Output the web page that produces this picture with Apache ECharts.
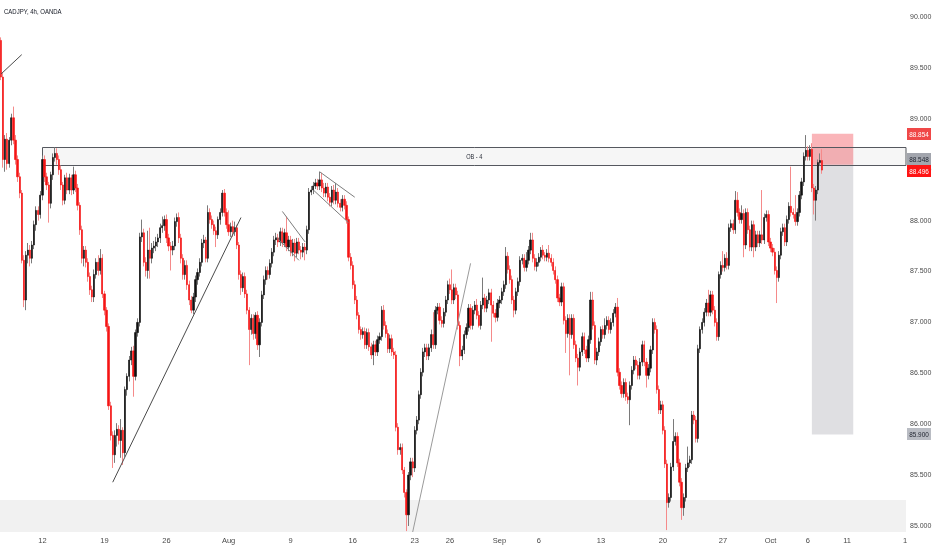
<!DOCTYPE html>
<html><head><meta charset="utf-8">
<script src="https://cdn.jsdelivr.net/npm/echarts@6/dist/echarts.min.js"></script>
<style>html,body{margin:0;padding:0;background:#fff}#c{width:932px;height:550px}</style>
</head><body><div id="c"></div>
<script>
// Each candle: [open, close, low, high]  (4h CADJPY, OANDA)
const julCandles = [
[89.77,89.41,89.38,89.80],[89.41,88.60,88.52,89.45],[88.60,88.80,88.48,88.84],[88.80,88.56,88.50,88.86],[88.56,88.79,88.52,88.82],
[88.79,89.01,88.74,89.05],[89.01,88.79,88.75,89.12],[88.79,88.60,88.55,88.84],[88.60,88.43,88.38,88.64],[88.43,88.27,88.22,88.47],
[88.27,87.61,87.58,88.30],[87.61,87.22,87.15,87.66],[87.22,87.66,87.12,87.70],[87.66,87.71,87.58,87.78],[87.71,87.63,87.55,87.76],
[87.63,87.76,87.58,87.80],[87.76,87.96,87.72,88.00],[87.96,88.10,87.90,88.14],[88.10,88.06,88.00,88.14],[88.06,88.25,88.02,88.29],
[88.25,88.60,88.20,88.64],[88.60,88.43,88.38,88.64],[88.43,88.35,88.30,88.47],[88.35,88.17,87.98,88.38],[88.17,88.45,88.12,88.48],
[88.45,88.62,88.40,88.66],[88.62,88.66,88.58,88.72],[88.66,88.60,88.55,88.71],[88.60,88.50,88.45,88.64],[88.50,88.35,88.30,88.54],
[88.35,88.20,88.15,88.38],[88.20,88.42,88.16,88.45],[88.42,88.30,88.26,88.47],[88.30,88.42,88.26,88.46],[88.42,88.30,88.25,88.45],
[88.30,88.45,88.26,88.53],[88.45,88.32,88.28,88.49],[88.32,88.15,88.10,88.36],[88.15,87.91,87.86,88.18],[87.91,87.63,87.58,87.95],
[87.63,87.71,87.55,87.75],[87.71,87.59,87.54,87.75],[87.59,87.45,87.40,87.63],[87.45,87.32,87.27,87.49],[87.32,87.25,87.20,87.36],
[87.25,87.47,87.20,87.52],[87.47,87.59,87.43,87.63],[87.59,87.51,87.46,87.66],[87.51,87.63,87.47,87.72],[87.63,87.28,87.24,87.67],
[87.28,87.12,87.07,87.31],[87.12,86.96,86.91,87.15],[86.96,86.18,86.14,86.99],[86.18,85.89,85.84,86.22],[85.89,85.70,85.57,85.93],
[85.70,85.89,85.62,85.94],[85.89,85.95,85.78,86.01],[85.95,85.84,85.80,85.99],[85.84,85.94,85.67,86.05],[85.94,85.72,85.60,85.97],
[85.72,86.34,85.68,86.37],[86.34,86.47,86.28,86.50],[86.47,86.63,86.42,86.67],[86.63,86.72,86.58,86.76],[86.72,86.47,86.27,86.77],
[86.47,86.90,86.43,86.93],[86.90,87.00,86.86,87.04],[87.00,87.84,86.96,87.88],[87.84,87.88,87.79,88.01],[87.88,87.59,87.55,87.92],
[87.59,87.51,87.45,87.64],[87.51,87.71,87.43,87.90],[87.71,87.63,87.43,87.93],[87.63,87.73,87.58,87.78],[87.73,87.75,87.68,87.80],
[87.75,87.79,87.70,87.84],[87.79,87.83,87.74,87.87],[87.83,87.93,87.78,87.97],[87.93,87.95,87.88,88.04],[87.95,88.01,87.90,88.05],
[88.01,87.83,87.78,88.06],[87.83,87.75,87.70,87.87],[87.75,87.71,87.51,87.79],[87.71,87.75,87.66,87.80],[87.75,87.99,87.71,88.03],
[87.99,88.03,87.94,88.07],[88.03,87.83,87.78,88.08],[87.83,87.63,87.58,87.87],[87.63,87.47,87.42,87.67],[87.47,87.56,87.42,87.61],
[87.56,87.37,87.32,87.61],[87.37,87.22,87.17,87.41],[87.22,87.12,87.09,87.26],[87.12,87.25,87.08,87.29],[87.25,87.42,87.20,87.46],
[87.42,87.49,87.37,87.53],[87.49,87.59,87.45,87.63],[87.59,87.78,87.55,87.82],[87.78,87.81,87.73,87.86],[87.81,87.63,87.59,87.84],
[87.63,88.08,87.59,88.15],[88.08,88.01,87.97,88.12],[88.01,87.96,87.92,88.05],[87.96,87.90,87.86,88.00],[87.90,87.86,87.74,87.94],
[87.86,88.01,87.82,88.04],[88.01,88.08,87.96,88.12],[88.08,88.27,88.04,88.30],[88.27,88.08,88.04,88.31],[88.08,87.96,87.92,88.12]
];
const augCandles = [
[87.96,87.89,87.85,88.10],[87.89,87.94,87.84,87.98],[87.94,87.89,87.84,88.00],[87.89,87.93,87.85,87.99],[87.93,87.76,87.72,87.96],
[87.76,87.47,87.42,87.79],[87.47,87.34,87.27,87.51],[87.34,87.45,87.30,87.49],[87.45,87.28,87.24,87.49],[87.28,87.12,87.08,87.32],
[87.12,86.93,86.58,87.15],[86.93,87.04,86.88,87.08],[87.04,86.89,86.83,87.08],[86.89,87.07,86.84,87.10],[87.07,86.78,86.73,87.11],
[86.78,87.00,86.66,87.04],[87.00,87.27,86.96,87.31],[87.27,87.42,87.23,87.46],[87.42,87.51,87.37,87.55],[87.51,87.47,87.42,87.55],
[87.47,87.58,87.43,87.62],[87.58,87.69,87.54,87.73],[87.69,87.81,87.65,87.85],[87.81,87.83,87.76,87.88],[87.83,87.79,87.74,87.87],
[87.79,87.89,87.75,87.93],[87.89,87.78,87.74,87.93],[87.78,87.88,87.74,87.92],[87.88,87.74,87.70,88.04],[87.74,87.81,87.70,87.85],
[87.81,87.69,87.65,87.85],[87.69,87.78,87.65,87.82],[87.78,87.68,87.60,87.82],[87.68,87.79,87.64,87.83],[87.79,87.71,87.67,87.83],
[87.71,87.69,87.62,87.75],[87.69,87.74,87.64,87.78],[87.74,87.71,87.61,87.78],[87.71,87.91,87.67,87.95],[87.91,88.28,87.87,88.32],
[88.28,88.30,88.25,88.34],[88.30,88.34,88.26,88.38],[88.34,88.37,88.31,88.41],[88.37,88.34,88.30,88.41],[88.34,88.40,88.30,88.48],
[88.40,88.32,88.28,88.47],[88.32,88.27,88.23,88.37],[88.27,88.33,88.23,88.37],[88.33,88.23,88.19,88.37],[88.23,88.18,88.14,88.27],
[88.18,88.30,88.14,88.34],[88.30,88.20,88.16,88.35],[88.20,88.28,88.16,88.37],[88.28,88.17,88.13,88.32],[88.17,88.13,88.09,88.21],
[88.13,88.21,88.09,88.25],[88.21,88.15,88.11,88.25],[88.15,88.01,87.97,88.19],[88.01,87.64,87.60,88.04],[87.64,87.56,87.52,87.68],
[87.56,87.37,87.33,87.60],[87.37,87.22,87.18,87.41],[87.22,87.07,87.03,87.26],[87.07,86.93,86.89,87.10],[86.93,86.88,86.83,86.96],
[86.88,86.91,86.84,86.95],[86.91,86.78,86.74,86.95],[86.78,86.90,86.74,86.94],[86.90,86.76,86.72,86.94],[86.76,86.68,86.64,86.80],
[86.68,86.78,86.58,86.82],[86.78,86.71,86.67,86.82],[86.71,86.83,86.67,86.87],[86.83,86.86,86.79,86.90],[86.86,87.12,86.82,87.16],
[87.12,86.97,86.93,87.17],[86.97,86.89,86.85,87.01],[86.89,86.74,86.70,86.93],[86.74,86.84,86.70,86.88],[86.84,86.71,86.67,86.88],
[86.71,86.68,86.64,86.75],[86.68,85.97,85.93,86.72],[85.97,85.75,85.70,86.01],[85.75,85.77,85.70,85.81],[85.77,85.55,85.51,85.81],
[85.55,85.33,85.28,85.58],[85.33,85.11,84.95,85.36],[85.11,85.50,85.00,85.53],[85.50,85.63,85.45,85.67],[85.63,85.57,85.48,85.67],
[85.57,85.94,85.53,85.98],[85.94,86.04,85.90,86.08],[86.04,86.29,86.00,86.33],[86.29,86.51,86.25,86.55],[86.51,86.71,86.47,86.75],
[86.71,86.75,86.66,86.79],[86.75,86.67,86.63,86.79],[86.67,86.75,86.63,86.79],[86.75,86.88,86.71,86.93],[86.88,86.78,86.74,87.10],
[86.78,87.12,86.74,87.16],[87.12,87.15,87.08,87.19],[87.15,87.02,86.98,87.19],[87.02,86.99,86.95,87.06],[86.99,87.10,86.95,87.14],
[87.10,87.22,87.06,87.26],[87.22,87.37,87.18,87.41],[87.37,87.32,87.28,87.43],[87.32,87.22,87.18,87.52],[87.22,87.34,87.18,87.38],
[87.34,87.27,87.23,87.38],[87.27,86.97,86.93,87.31],[86.97,86.67,86.57,87.01],[86.67,86.73,86.63,86.77],[86.73,86.88,86.69,86.92],
[86.88,86.95,86.84,86.99],[86.95,87.14,86.91,87.18],[87.14,86.97,86.93,87.18],[86.97,87.12,86.93,87.16],[87.12,87.17,87.08,87.21],
[87.17,87.07,87.03,87.23],[87.07,86.97,86.95,87.11],[86.97,87.17,86.93,87.21],[87.17,87.24,87.13,87.44],[87.24,87.14,87.10,87.28],
[87.14,87.22,87.10,87.26],[87.22,87.29,87.18,87.33],[87.29,87.17,86.81,87.33],[87.17,87.09,87.05,87.21],[87.09,87.05,87.00,87.13],
[87.05,87.19,87.01,87.23]
];
const sepCandles = [
[87.19,87.22,87.14,87.26],[87.22,87.30,87.18,87.34],[87.30,87.37,87.26,87.41],[87.37,87.65,87.33,87.74],[87.65,87.52,87.48,87.69],
[87.52,87.42,87.38,87.56],[87.42,87.22,87.18,87.46],[87.22,87.12,87.05,87.26],[87.12,87.30,87.08,87.34],[87.30,87.40,87.26,87.44],
[87.40,87.61,87.36,87.65],[87.61,87.63,87.57,87.67],[87.63,87.54,87.50,87.67],[87.54,87.61,87.50,87.69],[87.61,87.71,87.57,87.75],
[87.71,87.81,87.67,87.88],[87.81,87.63,87.59,87.88],[87.63,87.55,87.51,87.67],[87.55,87.59,87.50,87.63],[87.59,87.64,87.55,87.68],
[87.64,87.71,87.60,87.74],[87.71,87.66,87.62,87.76],[87.66,87.64,87.60,87.69],[87.64,87.68,87.60,87.72],[87.68,87.63,87.59,87.76],
[87.63,87.59,87.55,87.67],[87.59,87.51,87.47,87.63],[87.51,87.42,87.38,87.55],[87.42,87.24,87.20,87.46],[87.24,87.20,87.16,87.28],
[87.20,87.35,87.16,87.39],[87.35,87.02,86.98,87.39],[87.02,86.89,86.70,87.06],[86.89,87.04,86.85,87.08],[87.04,86.88,86.48,87.08],
[86.88,87.04,86.84,87.08],[87.04,86.78,86.74,87.08],[86.78,86.65,86.61,86.82],[86.65,86.56,86.38,86.69],[86.56,86.71,86.52,86.75],
[86.71,86.86,86.67,86.90],[86.86,86.73,86.69,86.90],[86.73,86.65,86.61,86.77],[86.65,86.83,86.61,86.87],[86.83,87.22,86.79,87.30],
[87.22,86.97,86.93,87.30],[86.97,86.63,86.59,87.01],[86.63,86.71,86.58,86.75],[86.71,86.81,86.67,86.85],[86.81,86.93,86.77,86.96],
[86.93,86.88,86.84,86.97],[86.88,86.97,86.84,87.04],[86.97,87.02,86.93,87.06],[87.02,86.93,86.89,87.06],[86.93,87.00,86.89,87.04],
[87.00,87.09,86.96,87.13],[87.09,87.15,87.05,87.19],[87.15,86.51,86.47,87.24],[86.51,86.38,86.34,86.55],[86.38,86.30,86.26,86.42],
[86.30,86.41,86.26,86.45],[86.41,86.27,86.23,86.45],[86.27,86.24,86.20,86.31],[86.24,86.38,85.99,86.42],[86.38,86.53,86.34,86.57],
[86.53,86.63,86.49,86.67],[86.63,86.58,86.54,86.67],[86.58,86.48,86.44,86.62],[86.48,86.61,86.44,86.65],[86.61,86.78,86.57,86.82],
[86.78,86.61,86.57,86.82],[86.61,86.48,86.36,86.65],[86.48,86.55,86.44,86.59],[86.55,86.73,86.51,86.77],[86.73,87.00,86.69,87.04],
[87.00,86.93,86.89,87.04],[86.93,86.34,86.30,86.97],[86.34,86.14,86.10,86.38],[86.14,86.19,86.10,86.23],[86.19,85.94,85.90,86.23],
[85.94,85.61,85.57,85.98],[85.61,85.23,84.96,85.65],[85.23,85.28,85.18,85.32],[85.28,85.58,85.24,85.62],[85.58,85.83,85.54,86.05],
[85.83,85.88,85.79,85.92],[85.88,85.62,85.58,85.92],[85.62,85.43,85.39,85.66],[85.43,85.18,85.06,85.47],[85.18,85.28,85.10,85.32],
[85.28,85.57,85.24,85.61],[85.57,85.62,85.53,85.78],[85.62,85.65,85.58,85.69],[85.65,86.09,85.61,86.13],[86.09,86.04,86.00,86.13],
[86.04,85.86,85.82,86.08],[85.86,86.74,85.82,86.78],[86.74,86.93,86.70,86.96],[86.93,87.00,86.89,87.04],[87.00,87.10,86.96,87.14],
[87.10,87.19,87.06,87.23],[87.19,87.10,87.06,87.32],[87.10,87.27,87.06,87.31],[87.27,87.12,87.08,87.31],[87.12,87.00,86.96,87.16],
[87.00,86.86,86.82,87.04],[86.86,87.47,86.82,87.50],[87.47,87.56,87.43,87.60],[87.56,87.54,87.50,87.70],[87.54,87.63,87.50,87.67],
[87.63,87.56,87.52,87.69],[87.56,87.93,87.52,87.97],[87.93,87.97,87.89,88.01],[87.97,87.91,87.87,88.01],[87.91,88.20,87.87,88.29],
[88.20,88.08,88.04,88.28],[88.08,88.01,87.97,88.12],[88.01,88.07,87.97,88.15],[88.07,87.76,87.64,88.11],[87.76,88.08,87.72,88.12],
[88.08,87.91,87.87,88.12],[87.91,87.74,87.70,87.95],[87.74,87.96,87.70,88.00],[87.96,87.74,87.64,88.00],[87.74,87.86,87.70,87.90],
[87.86,87.78,87.74,87.90],[87.78,87.86,87.74,87.90],[87.86,87.81,87.77,88.30],[87.81,88.03,87.77,88.07],[88.03,88.06,87.99,88.10],
[88.06,87.79,87.75,88.10]
];
const octCandles = [
[87.79,87.73,87.69,87.83],[87.73,87.69,87.65,87.77],[87.69,87.51,87.47,87.73],[87.51,87.44,87.19,87.55],[87.44,87.66,87.40,87.70],
[87.66,87.89,87.62,87.93],[87.89,87.93,87.85,87.97],[87.93,87.79,87.75,87.97],[87.79,88.01,87.75,88.05],[88.01,88.14,87.97,88.18],
[88.14,88.08,88.04,88.53],[88.08,88.06,88.02,88.12],[88.06,87.99,87.95,88.25],[87.99,88.08,87.95,88.12],[88.08,88.25,88.04,88.29],
[88.25,88.38,88.21,88.42],[88.38,88.63,88.34,88.67],[88.63,88.69,88.59,88.84],[88.69,88.63,88.59,88.73],[88.63,88.70,88.59,88.74],
[88.70,88.32,88.28,88.76],[88.32,88.20,88.06,88.36],[88.20,88.30,88.00,88.34],[88.30,88.57,88.26,88.60],[88.57,88.59,88.54,88.66],
[88.59,88.496,88.46,88.70]
];

// x axis: 4h slots (incl. empty future slots) and date tick labels
const totalSlots = 438;
const tickIndex = [20, 50, 80, 110, 140, 170, 200, 217, 241, 260, 290, 320, 349, 372, 390, 409, 437];
const tickText  = ['12','19','26','Aug','9','16','23','26','Sep','6','13','20','27','Oct','6','11','1'];

// y axis range
const yMin = 84.941, yMax = 90.167;

// drawings
const supportZoneTop = [85.255];
const obZone = [20, 88.72, 88.548];          // start slot, top, bottom
const obLabel = 'OB - 4';
const shortPosition = [392, 412, 88.854, 88.548, 85.900]; // start, end, stop, entry, target
const trendLines = [[0, 89.44, 10, 89.63], [54, 85.43, 116, 88.03]];
const channelLines = [[136, 88.09, 147, 87.79], [133, 87.84, 144, 87.61], [154, 88.48, 171, 88.23], [151, 88.30, 168, 87.98]];
const riseLines = [[199, 84.94, 227, 87.58]];
const priceTags = [88.854, 88.548, 88.496, 85.900];

const candles = julCandles.concat(augCandles, sepCandles, octCandles);
const categories = Array.from({length: totalSlots}, (_, i) => String(i));
const bodies = candles.map(c => [c[0], c[1], Math.min(c[0], c[1]), Math.max(c[0], c[1])]);

const FONT = '"Liberation Sans","Noto Sans",sans-serif';
const UP = '#111111', DOWN = '#f51414';
const tagStyle = [
  {bg: '#f04848', fg: '#ffffff', dy: 0},
  {bg: '#a2a5ad', fg: '#1e222d', dy: -6},
  {bg: '#ff1414', fg: '#ffffff', dy: 1},
  {bg: '#b9bcc3', fg: '#1e222d', dy: 0}
];

function lineSeries(data, color, z) {
  return {
    type: 'custom', data: data, z: z, silent: true, clip: true,
    renderItem(params, api) {
      const p1 = api.coord([api.value(0), api.value(1)]);
      const p2 = api.coord([api.value(2), api.value(3)]);
      return {type: 'line', shape: {x1: p1[0], y1: p1[1], x2: p2[0], y2: p2[1]},
        style: {stroke: color, lineWidth: 1}};
    }
  };
}

const chart = echarts.init(document.getElementById('c'), null, {renderer: 'canvas'});
chart.setOption({
  animation: false,
  backgroundColor: '#ffffff',
  graphic: [{type: 'text', left: 4, top: 8, scaleX: 0.75, originX: 0,
    style: {text: 'CADJPY, 4h, OANDA', font: '8px ' + FONT, fill: '#131722'}}],
  grid: {left: 0, right: 26, top: 0, bottom: 18, containLabel: false, outerBoundsMode: 'none'},
  xAxis: {
    type: 'category', data: categories, boundaryGap: true,
    axisLine: {show: false}, axisTick: {show: false}, splitLine: {show: false},
    axisLabel: {
      interval: (i) => tickIndex.indexOf(i) >= 0,
      formatter: (v, i) => { const k = tickIndex.indexOf(i); return k >= 0 ? tickText[k] : ''; },
      color: '#4a4a4a', fontSize: 7.5, fontFamily: FONT, margin: 5
    }
  },
  yAxis: {
    type: 'value', position: 'right', min: yMin, max: yMax, scale: true,
    splitNumber: 10, minInterval: 0.5, maxInterval: 0.5,
    axisLine: {show: false}, axisTick: {show: false}, splitLine: {show: false},
    axisLabel: {showMinLabel: false, showMaxLabel: false, color: '#4a4a4a', fontSize: 7, fontFamily: FONT, margin: 4,
      formatter: (v) => v.toFixed(3)}
  },
  series: [
    { // bottom support zone
      type: 'custom', data: [[0, supportZoneTop[0]]], z: 1, silent: true, clip: true,
      renderItem(params, api) {
        const cs = params.coordSys;
        const y = api.coord([0, api.value(1)])[1];
        return {type: 'rect', shape: {x: cs.x, y: y, width: cs.width, height: cs.y + cs.height - y},
          style: {fill: '#f1f1f1'}};
      }
    },
    { // short position box
      type: 'custom', data: [shortPosition], z: 1, silent: true, clip: false,
      renderItem(params, api) {
        const xs = api.coord([api.value(0), api.value(2)]);
        const xe = api.coord([api.value(1), api.value(2)])[0];
        const yEntry = api.coord([api.value(0), api.value(3)])[1];
        const yTarget = api.coord([api.value(0), api.value(4)])[1];
        return {type: 'group', children: [
          {type: 'rect', shape: {x: xs[0], y: xs[1], width: xe - xs[0], height: yEntry - xs[1]}, style: {fill: 'rgba(242,60,70,0.38)'}},
          {type: 'rect', shape: {x: xs[0], y: yEntry, width: xe - xs[0], height: yTarget - yEntry}, style: {fill: 'rgba(120,123,134,0.24)'}}
        ]};
      }
    },
    { // order block zone
      type: 'custom', data: [obZone], z: 1, silent: true, clip: false,
      renderItem(params, api) {
        const cs = params.coordSys;
        const p = api.coord([api.value(0), api.value(1)]);
        const left = Math.round(p[0]) + 0.5;
        const top = Math.round(p[1]) + 0.5;
        const bottom = Math.round(api.coord([api.value(0), api.value(2)])[1]) + 0.5;
        const right = cs.x + cs.width;
        return {type: 'group', children: [
          {type: 'rect', shape: {x: left, y: top, width: right - left, height: bottom - top},
            style: {fill: 'rgba(0,0,0,0.035)', stroke: '#55585f', lineWidth: 1}},
          {type: 'text', x: (left + right) / 2, y: (top + bottom) / 2 + 0.5, scaleX: 0.8,
            style: {text: obLabel, x: 0, y: 0,
            fill: '#2a2e39', font: '7px ' + FONT, align: 'center', verticalAlign: 'middle'}}
        ]};
      }
    },
    { // wicks
      type: 'candlestick', data: candles, z: 2, silent: true, barWidth: 0.6, large: false,
      itemStyle: {color: '#7a7a7a', color0: '#f58a8a', borderColor: '#7a7a7a', borderColor0: '#f58a8a', borderWidth: 1}
    },
    { // bodies
      type: 'candlestick', data: bodies, z: 3, silent: true, barWidth: 1.7, large: false,
      itemStyle: {color: UP, color0: DOWN, borderColor: UP, borderColor0: DOWN, borderWidth: 0.6}
    },
    lineSeries(trendLines, '#4b4b4b', 4),
    lineSeries(channelLines, '#7d7d7d', 4),
    lineSeries(riseLines, '#9a9a9a', 4),
    { // right price tags
      type: 'custom', data: priceTags.map(v => [totalSlots - 1, v]), z: 6, silent: true, clip: false,
      renderItem(params, api) {
        const cs = params.coordSys;
        const st = tagStyle[params.dataIndex];
        const y = Math.round(api.coord([api.value(0), api.value(1)])[1] + st.dy);
        const x = cs.x + cs.width + 1;
        return {type: 'group', children: [
          {type: 'rect', shape: {x: x, y: y - 6, width: 24, height: 12}, style: {fill: st.bg}},
          {type: 'text', x: x + 12, y: y + 0.5, scaleX: 0.8,
            style: {text: api.value(1).toFixed(3), x: 0, y: 0,
            fill: st.fg, font: '8px ' + FONT, align: 'center', verticalAlign: 'middle'}}
        ]};
      }
    }
  ]
});
</script>
</body></html>
